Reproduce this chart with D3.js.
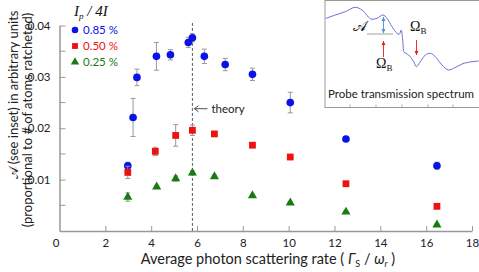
<!DOCTYPE html>
<html>
<head>
<meta charset="utf-8">
<script src="https://cdn.jsdelivr.net/npm/d3@7"></script>
<style>
  body { margin: 0; background: #fff; }
  svg { display: block; font-family: Lato, "Open Sans", sans-serif; }
</style>
</head>
<body>
<div id="wrapper"></div>
<script>
// series: scattering rate (x), amplitude (y), error (+/-)
const blueX = [2.98, 3.21, 3.38, 4.23, 4.84, 5.62, 5.80, 6.32, 7.23, 8.42, 10.07, 12.5, 16.47];
const blueY = [0.0127, 0.0221, 0.0299, 0.0340, 0.0343, 0.0367, 0.0376, 0.0340, 0.0324, 0.0305, 0.0250, 0.0179, 0.0127];
const blueErr = [0.0007, 0.0037, 0.0016, 0.0027, 0.0010, 0.0010, 0.0008, 0.0014, 0.0012, 0.0012, 0.0020, 0.0003, 0.0007];

const redX = [2.98, 4.18, 5.07, 5.80, 6.76, 8.42, 10.07, 12.5, 16.47];
const redY = [0.0114, 0.0155, 0.0186, 0.0196, 0.0189, 0.0167, 0.0144, 0.0092, 0.0048];
const redErr = [0.0012, 0.0008, 0.0021, 0.0010, 0.0003, 0.0003, 0.0005, 0.0003, 0.0003];

const greenX = [2.98, 4.24, 5.07, 5.80, 6.76, 8.42, 10.07, 12.5, 16.47];
const greenY = [0.0066, 0.0086, 0.0102, 0.0113, 0.0106, 0.0069, 0.0055, 0.0037, 0.0012];
const greenErr = [0.0008, 0.0003, 0.0005, 0.0004, 0.0003, 0.0002, 0.0002, 0.0002, 0.0002];

const seriesNames = ["0.85 %", "0.50 %", "0.25 %"];
const xTicks = [0, 2, 4, 6, 8, 10, 12, 14, 16, 18];
const yTicks = [0.01, 0.02, 0.03, 0.04];
const yMinorTicks = [0.005, 0.015, 0.025, 0.035];
const theoryX = 5.8;

// inset spectrum, arbitrary detuning / transmission units
const specX = [0, 9.3, 19.3, 29.3, 36, 46, 51, 57, 61, 66, 71, 73.3, 75.3, 76.7, 77.7, 82.7, 87.7, 90.3, 94.3, 99.3, 104.3, 109.3, 116, 122.7, 127.7, 136, 146, 152.7];
const specY = [89.7, 93, 96.3, 100.7, 98, 88.7, 89.7, 93, 89.7, 81.3, 74.7, 73.7, 78, 68, 56.3, 53, 46.3, 41.3, 46.3, 53, 54.7, 51.3, 43, 38, 39.7, 44, 46.3, 47];

const W = 479, H = 272;
const svg = d3.select("#wrapper").append("svg")
  .attr("width", W).attr("height", H);

const x = d3.scaleLinear().domain([0, 18]).range([59.5, 472]);
const y = d3.scaleLinear().domain([0, 0.04]).range([231, 25.5]);
const axisCol = "#999";

// axes
const gx = svg.append("g").attr("transform", "translate(0," + y(0) + ")")
  .call(d3.axisBottom(x).tickValues(xTicks).tickSize(0).tickPadding(8).tickFormat(d3.format("d")));
gx.selectAll(".tick").filter(d => d > 0).append("line")
  .attr("y1", 0).attr("y2", -5).attr("stroke", axisCol);
gx.select(".domain").attr("stroke", axisCol).attr("stroke-width", 1.5);
gx.selectAll("text").attr("font-size", 11.5).attr("fill", "#222")
  .attr("font-family", "Lato, sans-serif");
gx.selectAll(".tick").filter(d => d === 0).select("text").attr("dx", -4);

const gy = svg.append("g").attr("transform", "translate(" + x(0) + ",0)")
  .call(d3.axisLeft(y).tickValues(yTicks).tickSize(0).tickPadding(9).tickFormat(d3.format(".2f")));
gy.selectAll(".tick").append("line").attr("x1", 0).attr("x2", 6).attr("stroke", axisCol);
gy.select(".domain").attr("stroke", axisCol).attr("stroke-width", 1.5);
gy.selectAll("text").attr("font-size", 11.5).attr("fill", "#222")
  .attr("font-family", "Lato, sans-serif");
svg.append("g").selectAll("line").data(yMinorTicks).enter().append("line")
  .attr("x1", x(0)).attr("x2", x(0) + 6)
  .attr("y1", d => y(d)).attr("y2", d => y(d)).attr("stroke", axisCol);

// theory line
svg.append("line")
  .attr("x1", x(theoryX)).attr("x2", x(theoryX))
  .attr("y1", y(0.0405)).attr("y2", y(0))
  .attr("stroke", "#333").attr("stroke-width", 0.8).attr("stroke-dasharray", "3,2");
svg.append("line").attr("x1", x(theoryX) + 2).attr("x2", x(theoryX) + 15)
  .attr("y1", y(0.0238)).attr("y2", y(0.0238)).attr("stroke", "#222").attr("stroke-width", 0.8);
svg.append("path")
  .attr("d", d3.line()([[x(theoryX) + 6, y(0.0238) - 3], [x(theoryX) + 2, y(0.0238)], [x(theoryX) + 6, y(0.0238) + 3]]))
  .attr("fill", "none").attr("stroke", "#222").attr("stroke-width", 0.8);
svg.append("text").attr("x", x(theoryX) + 19).attr("y", y(0.0238) + 4)
  .attr("font-size", 11.5).attr("fill", "#222").text("theory");

// error bars + markers
function drawSeries(xs, ys, errs, color, shape) {
  const data = xs.map((d, i) => ({ x: d, y: ys[i], e: errs[i] }));
  const g = svg.append("g");
  const eb = g.selectAll(".eb").data(data).enter().append("g").attr("stroke", "#999").attr("stroke-width", 1);
  eb.append("line").attr("x1", d => x(d.x)).attr("x2", d => x(d.x))
    .attr("y1", d => y(d.y - d.e)).attr("y2", d => y(d.y + d.e));
  eb.append("line").attr("x1", d => x(d.x) - 2.5).attr("x2", d => x(d.x) + 2.5)
    .attr("y1", d => y(d.y - d.e)).attr("y2", d => y(d.y - d.e));
  eb.append("line").attr("x1", d => x(d.x) - 2.5).attr("x2", d => x(d.x) + 2.5)
    .attr("y1", d => y(d.y + d.e)).attr("y2", d => y(d.y + d.e));
  g.selectAll(".m").data(data).enter().append("path")
    .attr("transform", d => "translate(" + x(d.x) + "," + y(d.y) + ")")
    .attr("d", d3.symbol().type(shape).size(shape === d3.symbolTriangle ? 36 : 46))
    .attr("fill", color);
}
drawSeries(blueX, blueY, blueErr, "#0a12e6", d3.symbolCircle);
drawSeries(redX, redY, redErr, "#f01010", d3.symbolSquare);
drawSeries(greenX, greenY, greenErr, "#1a7a12", d3.symbolTriangle);

// legend
const legColors = ["#0a12e6", "#f01010", "#1a7a12"];
const legShapes = [d3.symbolCircle, d3.symbolSquare, d3.symbolTriangle];
svg.append("text").attr("x", 74).attr("y", 16)
  .attr("font-family", "'Liberation Serif', serif").attr("font-style", "italic").attr("font-size", 15)
  .attr("fill", "#111")
  .html('I<tspan dy="3" font-size="9">p</tspan><tspan dy="-3"> / 4I</tspan>');
const leg = svg.append("g").selectAll("g").data(seriesNames).enter().append("g")
  .attr("transform", (d, i) => "translate(75," + (30 + i * 16) + ")");
leg.append("path").attr("d", (d, i) => d3.symbol().type(legShapes[i]).size(i === 2 ? 30 : 34)())
  .attr("fill", (d, i) => legColors[i]);
leg.append("text").attr("x", 8).attr("y", 4).attr("font-size", 11.5)
  .attr("fill", (d, i) => legColors[i]).text(d => d);

// axis titles
svg.append("text").attr("x", 268).attr("y", 264).attr("text-anchor", "middle")
  .attr("font-size", 14.5).attr("fill", "#222")
  .html('Average photon scattering rate ( <tspan font-style="italic">Γ</tspan><tspan font-size="9" dy="3">S</tspan><tspan dy="-3"> / </tspan><tspan font-style="italic">ω</tspan><tspan font-size="9" dy="3" font-style="italic">r</tspan><tspan dy="-3"> )</tspan>');
svg.append("text").attr("transform", "translate(17.5,95) rotate(-90)").attr("text-anchor", "middle")
  .attr("font-size", 13).attr("fill", "#222").text("𝒜 (see inset) in arbitrary units");
svg.append("text").attr("transform", "translate(31.5,120) rotate(-90)").attr("text-anchor", "middle")
  .attr("font-size", 13).attr("fill", "#222").text("(proportional to # of atoms ratcheted)");

// inset
const ix = d3.scaleLinear().domain([0, 152]).range([326, 478]);
const iy = d3.scaleLinear().domain([0, 108]).range([108, 0]);
const inset = svg.append("g");
inset.append("rect").attr("x", 325).attr("y", 0.5).attr("width", 160).attr("height", 107)
  .attr("fill", "#fff").attr("stroke", "#999").attr("stroke-width", 1);
inset.selectAll(".it").data([24, 50, 76, 102, 127]).enter().append("line")
  .attr("x1", d => ix(d)).attr("x2", d => ix(d)).attr("y1", 107.5).attr("y2", 104.5)
  .attr("stroke", "#aaa");
inset.append("path")
  .attr("d", d3.line().x((d, i) => ix(specX[i])).y(d => iy(d)).curve(d3.curveMonotoneX)(specY))
  .attr("fill", "none").attr("stroke", "#7070d8").attr("stroke-width", 1);
inset.append("line").attr("x1", 367).attr("x2", 393).attr("y1", 34).attr("y2", 34)
  .attr("stroke", "#888").attr("stroke-width", 0.8);
function arrow(x0, y0, y1, color, both) {
  inset.append("line").attr("x1", x0).attr("x2", x0).attr("y1", y0).attr("y2", y1)
    .attr("stroke", color).attr("stroke-width", 0.9);
  const head = (yy, dir) => inset.append("path")
    .attr("d", d3.line()([[x0 - 2, yy + dir * 4], [x0, yy], [x0 + 2, yy + dir * 4]]))
    .attr("fill", color);
  head(y1, y1 < y0 ? 1 : -1);
  if (both) head(y0, y0 < y1 ? 1 : -1);
}
arrow(383.5, 33, 17, "#4a90d8", true);
arrow(383.5, 57, 41, "#e02020", false);
arrow(416.5, 40, 55, "#e02020", false);
inset.append("text").attr("x", 353).attr("y", 31).attr("font-size", 15).attr("fill", "#111").text("𝒜");
inset.append("text").attr("x", 410).attr("y", 31).attr("font-family", "'Liberation Serif', serif")
  .attr("font-size", 14).attr("fill", "#111")
  .html('Ω<tspan font-size="9" dy="3">B</tspan>');
inset.append("text").attr("x", 376).attr("y", 68).attr("font-family", "'Liberation Serif', serif")
  .attr("font-size", 14).attr("fill", "#111")
  .html('Ω<tspan font-size="9" dy="3">B</tspan>');
inset.append("text").attr("x", 401).attr("y", 98).attr("text-anchor", "middle")
  .attr("font-size", 11.5).attr("fill", "#222").text("Probe transmission spectrum");
</script>
</body>
</html>
